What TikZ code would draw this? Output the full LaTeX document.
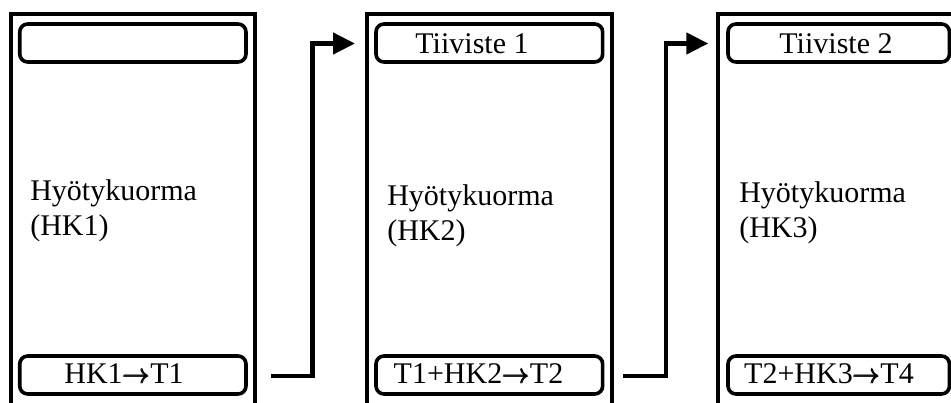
\documentclass[tikz,border=0pt]{standalone}
\usepackage{amsmath}
\usepackage{bm}
\usepackage{fontspec}
\setmainfont{Liberation Serif}
\usetikzlibrary{arrows.meta}

\begin{document}
\begin{tikzpicture}[x=0.75pt,y=0.75pt,yscale=-1,xscale=1,
  panel/.style={line width=3pt},
  slot/.style={draw, line width=2.7pt, rounded corners=6pt, inner sep=0pt, minimum height=28.5pt},
  lbl/.style={inner sep=0pt, anchor=base, font=\fontsize{22.5}{26.25}\selectfont},
  body/.style={lbl, anchor=base west, align=left},
  flow/.style={line width=3.4pt, -{Triangle[length=16.5pt,width=15.75pt]}}]
\useasboundingbox (0,0) rectangle (951,403);
\clip (0,0) rectangle (951,403);
% frames, open at the foot
\draw [panel] (11.3,430) -- (11.3,14) -- (254.5,14) -- (254.5,430) ;
\draw [panel] (367,430) -- (367,14) -- (612,14) -- (612,430) ;
\draw [panel] (718,430) -- (718,14) -- (965,14) -- (965,430) ;
% header and footer slots
\node [slot, minimum width=169.7pt] (head1) at (132.85,43) {};
\node [slot, minimum width=170pt] (head2) at (489.35,43) {};
\node [slot, minimum width=166.1pt] (head3) at (838.75,43) {};
\node [slot, minimum width=169.7pt] (foot1) at (132.85,375) {};
\node [slot, minimum width=170pt] (foot2) at (489.35,375) {};
\node [slot, minimum width=166.1pt] (foot3) at (838.75,375) {};
\node [lbl] (tiiv1) at (472,54) {Tiiviste 1};
\node [lbl] (tiiv2) at (836,54) {Tiiviste 2};
\node [lbl] (sum1) at (124,383) {HK1$\pmb{\rightarrow}$T1};
\node [lbl] (sum2) at (478.5,383) {T1+HK2$\pmb{\rightarrow}$T2};
\node [lbl] (sum3) at (829,383) {T2+HK3$\pmb{\rightarrow}$T4};
% payload texts (anchored on the second line)
\node [body] (load1) at (30,235.5) {Hyötykuorma\\(HK1)};
\node [body] (load2) at (387,240) {Hyötykuorma\\(HK2)};
\node [body] (load3) at (739,238) {Hyötykuorma\\(HK3)};
% connectors
\coordinate (go1) at (270.7,375.8);
\coordinate (turn1) at (312.5,43.5);
\coordinate (in1) at (355,43.5);
\coordinate (go2) at (623.3,375.8);
\coordinate (turn2) at (666,43.5);
\coordinate (in2) at (708.3,43.5);
\draw [flow] (go1) -| (turn1) -- (in1) ;
\draw [flow] (go2) -| (turn2) -- (in2) ;
\end{tikzpicture}
\end{document}
